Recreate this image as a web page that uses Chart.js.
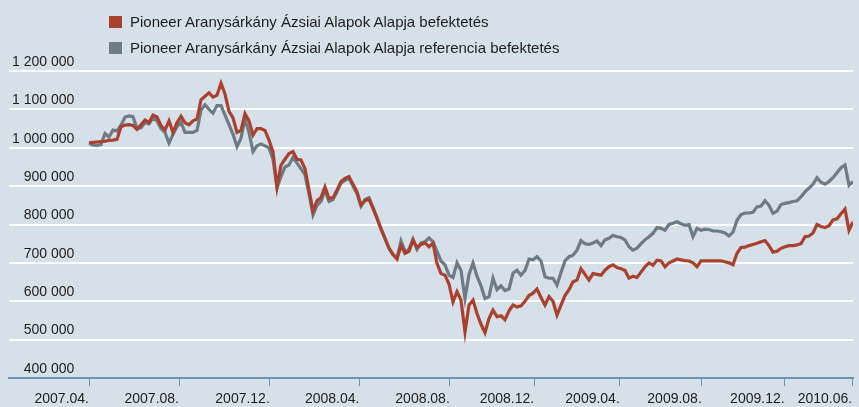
<!DOCTYPE html>
<html>
<head>
<meta charset="utf-8">
<script src="https://cdn.jsdelivr.net/npm/chart.js@4/dist/chart.umd.min.js"></script>
<style>
    body { margin: 0; }
    #wrap { position: relative; width: 859px; height: 407px; background: #d6e0e8; }
    #legend { position: absolute; left: 109px; top: 9px; font: 15px "Liberation Sans", Arial, sans-serif; color: #1e1e1e; }
    .item { height: 26px; line-height: 26px; white-space: nowrap; }
    .box { display: inline-block; width: 13px; height: 12px; margin-right: 8px; vertical-align: -1px; }
</style>
</head>
<body>
<div id="wrap">
    <canvas id="chart" width="859" height="407"></canvas>
    <div id="legend"></div>
</div>
<script>
// values in thousand Ft, one point every sample step
const fund = [1013,1014,1015,1016,1017,1019,1020,1022,1055,1059,
    1060,1058,1048,1060,1072,1066,1085,1080,1058,1046,
    1070,1040,1065,1082,1065,1060,1070,1075,1125,1134,
    1143,1132,1137,1168,1140,1095,1078,1040,1045,1089,
    1070,1033,1050,1050,1045,1020,989,898,955,970,
    985,990,970,968,945,890,835,862,870,898,
    868,870,890,912,920,925,905,885,850,862,
    866,842,816,788,764,738,722,710,745,725,
    730,759,740,748,752,742,751,699,672,668,
    645,598,625,603,520,590,603,568,540,518,
    555,577,560,562,552,575,590,585,588,600,
    615,621,632,610,590,612,600,564,590,615,
    630,651,655,685,670,655,672,670,668,681,
    690,695,688,685,680,660,665,662,676,690,
    700,694,707,705,690,700,705,710,708,706,
    705,700,690,705,705,705,705,705,705,703,
    700,695,725,740,741,745,748,751,755,758,
    745,728,730,738,742,745,745,747,750,768,
    770,778,800,795,792,797,812,815,828,840,
    785,807];

const bench = [1012,1007,1006,1008,1037,1028,1046,1044,1059,1080,
    1083,1081,1050,1052,1065,1062,1078,1070,1050,1040,
    1012,1035,1055,1066,1040,1040,1040,1045,1098,1112,
    1100,1090,1110,1110,1085,1060,1035,1003,1025,1075,
    1040,990,1005,1010,1005,1000,970,895,925,950,
    955,975,960,945,930,880,825,850,860,890,
    860,865,885,908,915,920,900,880,848,865,
    870,845,818,790,764,738,722,712,757,730,
    735,762,735,752,755,765,755,730,705,695,
    668,662,700,680,607,670,700,665,640,607,
    612,660,630,640,628,632,673,681,668,680,
    710,708,716,705,664,660,660,642,675,705,
    716,720,733,758,750,748,752,757,745,760,
    764,772,768,766,760,742,733,738,750,760,
    768,777,792,790,785,800,803,807,802,798,
    800,768,790,785,788,787,783,783,781,778,
    770,780,811,826,830,830,832,846,848,862,
    850,829,835,852,855,857,860,862,872,885,
    895,905,922,910,905,912,922,935,948,955,
    902,912];

const xLabels = ['2007.04.', '2007.08.', '2007.12.', '2008.04.', '2008.08.', '2008.12.', '2009.04.', '2009.08.', '2009.12.', '2010.06.'];
const xTickAt = [0, 22.5, 45.2, 67.6, 90.2, 111.3, 132.7, 153.2, 173.9, 190.8];

const red = '#aa412f';
const grey = '#6c7b84';
const axisBlue = '#6b95b1';

function toPoints(arr) {
    return arr.map((v, i) => ({x: i, y: v}));
}

function fmt(v) {
    return String(v * 1000).replace(/\B(?=(\d{3})+(?!\d))/g, ' ');
}

Chart.defaults.font.family = '"Liberation Sans", Arial, sans-serif';
Chart.defaults.font.size = 14;
Chart.defaults.color = '#1e1e1e';

const ctx = document.getElementById('chart').getContext('2d');
const chart = new Chart(ctx, {
    type: 'line',
    data: {
        datasets: [{
            label: 'Pioneer Aranysárkány Ázsiai Alapok Alapja befektetés',
            data: toPoints(fund),
            borderColor: red,
            backgroundColor: red,
            borderWidth: 3.2,
            pointRadius: 0,
            tension: 0
        },
        {
            label: 'Pioneer Aranysárkány Ázsiai Alapok Alapja referencia befektetés',
            data: toPoints(bench),
            borderColor: grey,
            backgroundColor: grey,
            borderWidth: 3.2,
            pointRadius: 0,
            tension: 0
        }]
    },
    options: {
        responsive: false,
        animation: false,
        layout: { padding: { left: 3, right: 6, top: 71, bottom: -5 } },
        plugins: { legend: { display: false }, tooltip: { enabled: false } },
        scales: {
            x: {
                type: 'linear',
                min: -20,
                max: 191,
                afterBuildTicks: (scale) => {
                    scale.ticks = xTickAt.map(v => ({value: v}));
                },
                ticks: {
                    autoSkip: false,
                    maxRotation: 0,
                    align: 'end',
                    padding: 6,
                    font: { lineHeight: 1 },
                    callback: (value, index) => xLabels[index]
                },
                grid: { drawOnChartArea: false, drawTicks: true, tickLength: 8, color: axisBlue, lineWidth: 1 },
                border: { display: true, color: axisBlue, width: 2 }
            },
            y: {
                min: 400,
                max: 1200,
                ticks: {
                    stepSize: 100,
                    mirror: true,
                    crossAlign: 'far',
                    padding: 3,
                    labelOffset: -9,
                    callback: (value) => fmt(value)
                },
                grid: { color: '#ffffff', lineWidth: 2, drawTicks: false },
                border: { display: false }
            }
        }
    }
});

// legend as html, top left above the plot
const legend = document.getElementById('legend');
chart.data.datasets.forEach(ds => {
    const row = document.createElement('div');
    row.className = 'item';
    row.innerHTML = '<span class="box" style="background:' + ds.borderColor + '"></span>' + ds.label;
    legend.appendChild(row);
});
</script>
</body>
</html>
